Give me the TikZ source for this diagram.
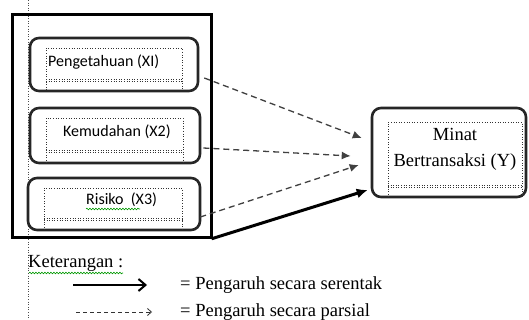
\documentclass[tikz,border=0pt]{standalone}
\usepackage{fontspec}
\setmainfont{Liberation Serif}
\newfontfamily\calib{Carlito}
\usetikzlibrary{arrows.meta,decorations.pathmorphing}
\tikzset{
  rbox/.style={draw=black!85,line width=2.6pt,rounded corners=9pt,inner sep=0pt},
  dotbox/.style={draw=black!80,line width=0.6pt,dotted},
  boxtext/.style={font=\calib\fontsize{16}{19}\selectfont,inner sep=0pt,anchor=west},
  sertext/.style={font=\fontsize{18.5}{22}\selectfont,inner sep=0pt},
  dasharrow/.style={draw=black!75,line width=1.3pt,dash pattern=on 6pt off 4pt,-{Latex[length=9pt,width=8pt]}},
  thickarrow/.style={draw=black,line width=3pt,-{Latex[length=11pt,width=10pt]}},
  squig/.style={draw=green!60!black,line width=0.6pt,decorate,decoration={snake,amplitude=0.8pt,segment length=3pt}}
}
\begin{document}
\begin{tikzpicture}[x=1pt,y=-1pt]
\useasboundingbox (0,0) rectangle (529,320);
\fill[white] (0,0) rectangle (529,320);
% dotted margin line
\draw[black!70,line width=0.6pt,dotted] (28,0) -- (28,320);
% group rectangle
\node[draw=black,line width=3pt,minimum width=199pt,minimum height=222pt,inner sep=0pt] (grp) at (111.5,126) {};
% boxes
\node[rbox,minimum width=168pt,minimum height=53pt] (b1) at (114,64.5) {};
\node[rbox,minimum width=170pt,minimum height=55pt] (b2) at (115,135.5) {};
\node[rbox,minimum width=172pt,minimum height=52pt] (b3) at (114,204) {};
\node[rbox,minimum width=154pt,minimum height=89pt] (y) at (449,152.5) {};
% inner dotted text frames
\draw[dotbox] (46,90) -- (46,48) -- (182,48) -- (182,90);
\draw[dotbox] (46,79) -- (182,79) (46,81) -- (182,81);
\draw[dotbox] (46,163) -- (46,118) -- (183,118) -- (183,163);
\draw[dotbox] (46,150) -- (183,150) (46,152) -- (183,152);
\draw[dotbox] (44,230) -- (44,188) -- (182,188) -- (182,230);
\draw[dotbox] (44,218) -- (182,218) (44,220) -- (182,220);
\draw[dotbox] (388,197) -- (388,122) -- (522,122) -- (522,197);
\draw[dotbox] (388,185) -- (522,185) (388,187) -- (522,187);
% texts
\node[boxtext] (t1) at (48,62) {Pengetahuan (XI)};
\node[boxtext] (t2) at (63,132) {Kemudahan (X2)};
\node[boxtext] (t3) at (86,200) {Risiko\ \ (X3)};
\draw[squig] (86,209) -- (140,209);
\node[sertext] (ty1) at (455,134) {Minat};
\node[sertext] (ty2) at (455,162) {Bertransaksi (Y)};
% connectors
\draw[dasharrow] ([shift={(5,13.5)}]b1.east) -- ([shift={(-9,-14.5)}]y.west);
\draw[dasharrow] ([shift={(2,12.5)}]b2.east) -- ([shift={(-20,3.5)}]y.west);
\draw[dasharrow] ([shift={(-1,13)}]b3.east) -- ([shift={(-12,12.5)}]y.west);
\draw[thickarrow,shorten <=-1pt] (grp.south east) -- ([shift={(-3,37.5)}]y.west);
% legend
\node[sertext,anchor=west] (ket) at (28,263) {Keterangan :};
\draw[squig] (29,273) -- (123,273);
\coordinate (l1s) at (73,285);
\coordinate (l1e) at (147,285);
\coordinate (l2s) at (76,312);
\coordinate (l2e) at (152,312);
\draw[black,line width=2.6pt,-{Straight Barb[length=7pt,width=12pt,line width=2pt]}] (l1s) -- (l1e);
\draw[black!80,line width=0.8pt,dash pattern=on 4pt off 3pt,-{Straight Barb[length=4pt,width=7pt]}] (l2s) -- (l2e);
\node[sertext,anchor=west] (lg1) at (180,285) {= Pengaruh secara serentak};
\node[sertext,anchor=west] (lg2) at (180,312) {= Pengaruh secara parsial};
\end{tikzpicture}
\end{document}
